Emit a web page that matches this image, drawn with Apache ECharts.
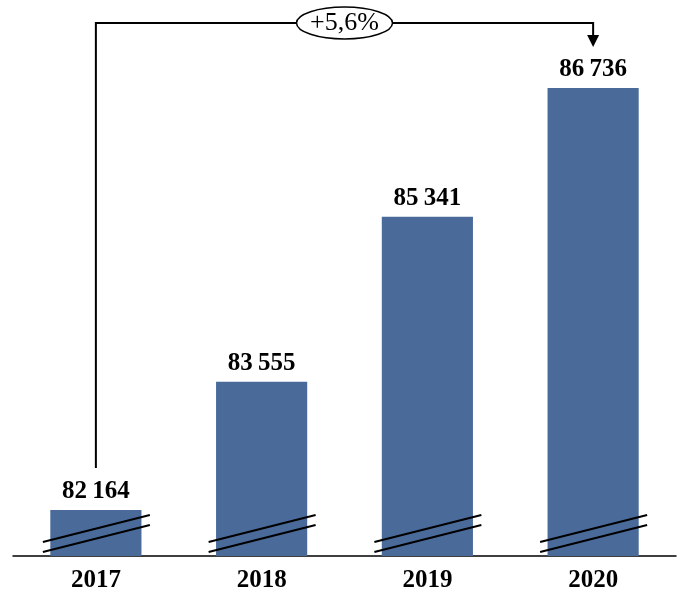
<!DOCTYPE html>
<html>
<head>
<meta charset="utf-8">
<script src="https://cdn.jsdelivr.net/npm/echarts@6/dist/echarts.min.js"></script>
<style>html,body{margin:0;padding:0;background:#fff}#c{width:689px;height:611px}</style>
</head>
<body>
<div id="c"></div>
<script>
var categories = ['2017', '2018', '2019', '2020'];
var values = [82164, 83555, 85341, 86736];
var changeLabel = '+5,6%';
var yMin = 81666;
var yMax = 87592;

var FONT = '"Liberation Serif", "Times New Roman", serif';
function fmt(v) { return String(v).replace(/\B(?=(\d{3})+(?!\d))/g, '\u2009'); }

var chart = echarts.init(document.getElementById('c'));
chart.setOption({
  animation: false,
  backgroundColor: '#ffffff',
  grid: { left: 13, right: 13, top: 9, bottom: 55 },
  xAxis: {
    type: 'category',
    data: categories,
    axisLine: { lineStyle: { color: '#000', width: 1.5 } },
    axisTick: { show: false },
    axisLabel: { color: '#000', fontFamily: FONT, fontWeight: 'bold', fontSize: 25, margin: 12 }
  },
  yAxis: {
    type: 'value', min: yMin, max: yMax, show: false, splitLine: { show: false }
  },
  series: [{
    type: 'bar',
    data: values,
    barWidth: '55%',
    z: 2,
    itemStyle: { color: '#4A6B9A' },
    label: {
      show: true, position: 'top', distance: 6,
      color: '#000', fontFamily: FONT, fontWeight: 'bold', fontSize: 25,
      formatter: function (p) { return fmt(p.value); }
    }
  }, {
    type: 'custom',
    clip: false,
    silent: true,
    z: 10,
    data: categories.map(function (c, i) { return [i]; }),
    renderItem: function (params, api) {
      var p = api.coord([api.value(0), yMin]);
      var cx = p[0], b = p[1];
      var s = { stroke: '#000', lineWidth: 2 };
      return {
        type: 'group',
        children: [
          { type: 'line', shape: { x1: cx - 53, y1: b - 14, x2: cx + 54, y2: b - 41 }, style: s },
          { type: 'line', shape: { x1: cx - 53, y1: b - 4, x2: cx + 54, y2: b - 31 }, style: s }
        ]
      };
    }
  }]
});

var p0 = chart.convertToPixel({ xAxisIndex: 0, yAxisIndex: 0 }, [0, values[0]]);
var p3 = chart.convertToPixel({ xAxisIndex: 0, yAxisIndex: 0 }, [3, values[3]]);
var topY = 23;
var midX = (p0[0] + p3[0]) / 2;
chart.setOption({
  graphic: [
    { type: 'polyline', shape: { points: [[p0[0], p0[1] - 42], [p0[0], topY], [p3[0], topY], [p3[0], 36]] },
      style: { stroke: '#000', lineWidth: 2, fill: null } },
    { type: 'polygon', shape: { points: [[p3[0] - 6, 35], [p3[0] + 6, 35], [p3[0], 47]] },
      style: { fill: '#000' } },
    { type: 'ellipse', shape: { cx: midX, cy: topY, rx: 48, ry: 16 },
      style: { fill: '#fff', stroke: '#000', lineWidth: 1.5 } },
    { type: 'text', x: midX, y: topY,
      style: { text: changeLabel, fill: '#000', font: '26px ' + FONT, align: 'center', verticalAlign: 'middle' } }
  ]
});
</script>
</body>
</html>
